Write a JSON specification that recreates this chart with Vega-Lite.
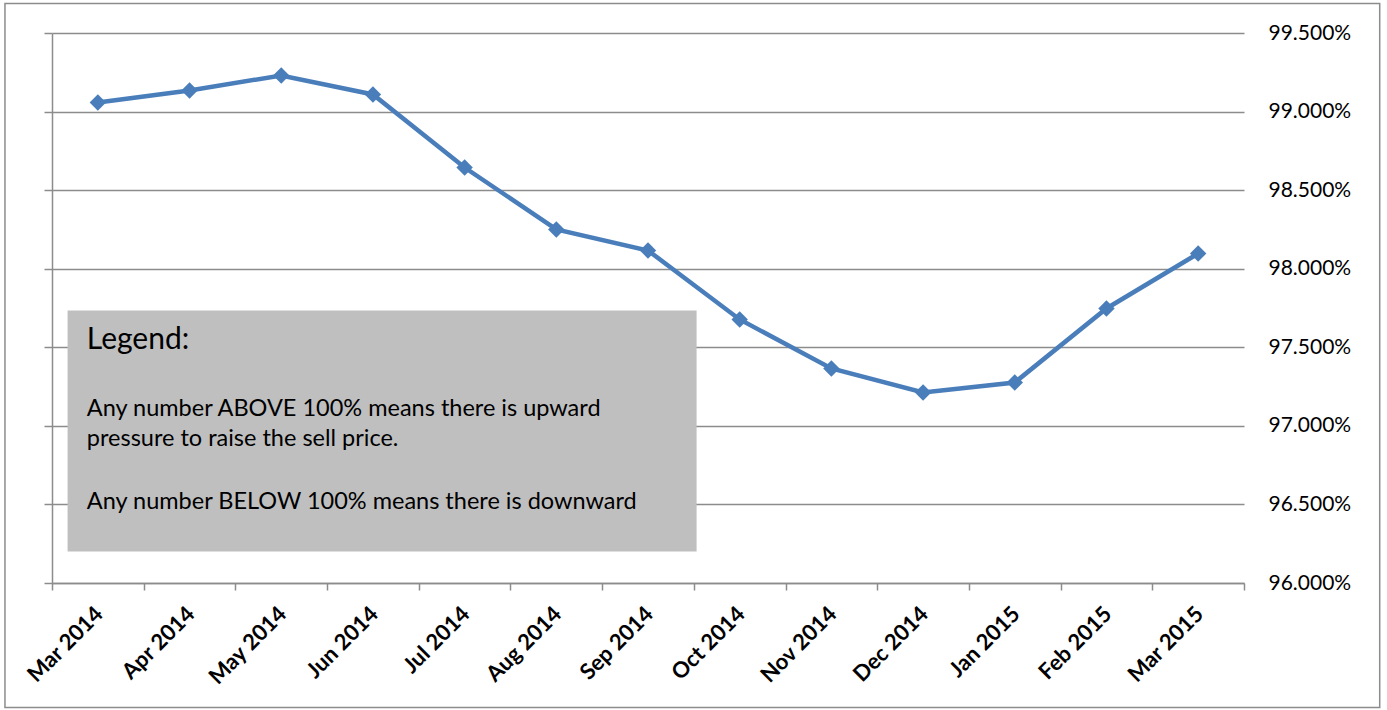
{
  "$schema": "https://vega.github.io/schema/vega-lite/v6.json",
  "width": 1192,
  "height": 550,
  "autosize": "none",
  "padding": {"left": 52, "top": 33, "right": 143, "bottom": 127},
  "background": "white",
  "config": {"view": {"stroke": null}, "font": "Lato"},
  "datasets": {
    "series": [
      {"month": "Mar 2014", "value": 0.99058},
      {"month": "Apr 2014", "value": 0.99134},
      {"month": "May 2014", "value": 0.99230},
      {"month": "Jun 2014", "value": 0.99109},
      {"month": "Jul 2014", "value": 0.98644},
      {"month": "Aug 2014", "value": 0.98250},
      {"month": "Sep 2014", "value": 0.98116},
      {"month": "Oct 2014", "value": 0.97677},
      {"month": "Nov 2014", "value": 0.97365},
      {"month": "Dec 2014", "value": 0.97212},
      {"month": "Jan 2015", "value": 0.97276},
      {"month": "Feb 2015", "value": 0.97747},
      {"month": "Mar 2015", "value": 0.98097}
    ],
    "frame": [{"x1": -0.513, "x2": 14.48, "y1": 0.95208, "y2": 0.99688}],
    "box": [{"x1": 0.17, "x2": 7.03, "y1": 0.9620, "y2": 0.97734}],
    "title": [{"x": 0.38, "y": 0.97490, "text": "Legend:"}],
    "notes": [
      {"x": 0.38, "y": 0.97060, "text": "Any number ABOVE 100% means there is upward"},
      {"x": 0.38, "y": 0.96869, "text": "pressure to raise the sell price."},
      {"x": 0.38, "y": 0.96468, "text": "Any number BELOW 100% means there is downward"}
    ]
  },
  "resolve": {"scale": {"x": "independent"}, "axis": {"y": "independent", "x": "independent"}},
  "layer": [
    {
      "data": {"name": "frame"},
      "mark": {"type": "rect", "fill": null, "stroke": "#8c8c8c", "strokeWidth": 1.5, "clip": false},
      "encoding": {
        "x": {"field": "x1", "type": "quantitative", "scale": {"domain": [0, 13], "nice": false, "zero": false}, "axis": null},
        "x2": {"field": "x2"},
        "y": {"field": "y1", "type": "quantitative", "scale": {"domain": [0.96, 0.995], "nice": false, "zero": false}, "axis": null},
        "y2": {"field": "y2"}
      }
    },
    {
      "data": {"name": "series"},
      "mark": {"type": "line", "color": "#4A7EBB", "strokeWidth": 4, "opacity": 0},
      "encoding": {
        "x": {"field": "month", "type": "ordinal", "sort": null,
              "scale": {"type": "band", "paddingInner": 0, "paddingOuter": 0},
              "axis": {"title": null, "orient": "bottom", "labelAngle": -45, "labelFontWeight": "bold", "labelFontSize": 22, "labelColor": "black", "labelPadding": 13, "labelOffset": -6, "tickBand": "extent", "tickSize": 7, "tickColor": "#8c8c8c", "tickWidth": 1.5, "domainColor": "#8c8c8c", "domainWidth": 1.5, "grid": false}},
        "y": {"field": "value", "type": "quantitative",
              "scale": {"domain": [0.96, 0.995], "nice": false, "zero": false},
              "axis": {"orient": "left", "title": null, "labels": false, "values": [0.96, 0.965, 0.97, 0.975, 0.98, 0.985, 0.99, 0.995], "tickSize": 8, "tickColor": "#8c8c8c", "tickWidth": 1.5, "domainColor": "#8c8c8c", "domainWidth": 1.5, "grid": true, "gridColor": "#8c8c8c", "gridWidth": 1.5}}
      }
    },
    {
      "data": {"name": "box"},
      "mark": {"type": "rect", "fill": "#BFBFBF", "stroke": null},
      "encoding": {
        "x": {"field": "x1", "type": "quantitative", "scale": {"domain": [0, 13], "nice": false, "zero": false}, "axis": null},
        "x2": {"field": "x2"},
        "y": {"field": "y1", "type": "quantitative", "scale": {"domain": [0.96, 0.995], "nice": false, "zero": false}, "axis": null},
        "y2": {"field": "y2"}
      }
    },
    {
      "data": {"name": "title"},
      "mark": {"type": "text", "align": "left", "baseline": "alphabetic", "fontSize": 30, "color": "black"},
      "encoding": {
        "x": {"field": "x", "type": "quantitative", "scale": {"domain": [0, 13], "nice": false, "zero": false}, "axis": null},
        "y": {"field": "y", "type": "quantitative", "scale": {"domain": [0.96, 0.995], "nice": false, "zero": false}, "axis": null},
        "text": {"field": "text"}
      }
    },
    {
      "data": {"name": "notes"},
      "mark": {"type": "text", "align": "left", "baseline": "alphabetic", "fontSize": 23.5, "color": "black"},
      "encoding": {
        "x": {"field": "x", "type": "quantitative", "scale": {"domain": [0, 13], "nice": false, "zero": false}, "axis": null},
        "y": {"field": "y", "type": "quantitative", "scale": {"domain": [0.96, 0.995], "nice": false, "zero": false}, "axis": null},
        "text": {"field": "text"}
      }
    },
    {
      "data": {"name": "series"},
      "mark": {"type": "line", "color": "#4A7EBB", "strokeWidth": 4.5, "point": {"shape": "diamond", "size": 270, "filled": true, "color": "#4A7EBB", "opacity": 1}},
      "encoding": {
        "x": {"field": "month", "type": "ordinal", "sort": null,
              "scale": {"type": "band", "paddingInner": 0, "paddingOuter": 0},
              "axis": null},
        "y": {"field": "value", "type": "quantitative",
              "scale": {"domain": [0.96, 0.995], "nice": false, "zero": false},
              "axis": {"orient": "right", "title": null, "format": ".3%", "values": [0.96, 0.965, 0.97, 0.975, 0.98, 0.985, 0.99, 0.995], "ticks": false, "domain": false, "grid": false, "labelPadding": 24, "labelFontSize": 21, "labelColor": "black"}}
      }
    }
  ]
}
